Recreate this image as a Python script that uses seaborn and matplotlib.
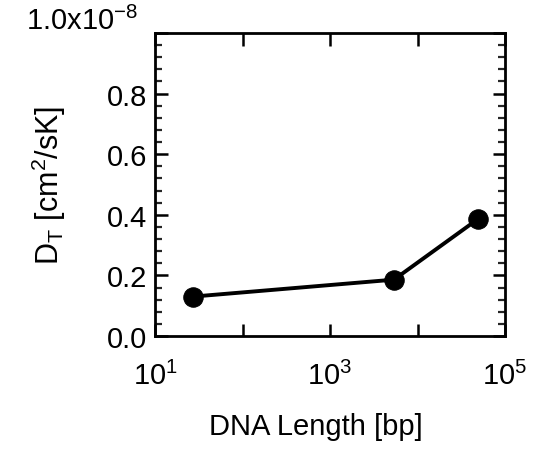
import matplotlib
matplotlib.use("Agg")
import matplotlib.pyplot as plt
import seaborn as sns
import pandas as pd
from matplotlib.ticker import FixedLocator, MultipleLocator, NullLocator

# Data (D_T in units of 1e-8 cm^2/sK)
dna_length_bp = [27, 5386, 48502]
dt_values = [0.13, 0.186, 0.385]
y_tick_vals = [0.0, 0.2, 0.4, 0.6, 0.8, 1.0]
y_tick_labels = ["0.0", "0.2", "0.4", "0.6", "0.8", ""]
y_top_label = "1.0x10$^{-8}$"
x_tick_vals = [10, 100, 1000, 10000, 100000]
x_tick_labels = ["10$^{1}$", "", "10$^{3}$", "", "10$^{5}$"]

sns.set_theme(style="ticks")
plt.rcParams["font.family"] = ["Liberation Sans", "DejaVu Sans"]
plt.rcParams["mathtext.fontset"] = "custom"
plt.rcParams["mathtext.rm"] = "Liberation Sans"
plt.rcParams["mathtext.it"] = "Liberation Sans"
plt.rcParams["mathtext.bf"] = "Liberation Sans"

df = pd.DataFrame({"length": dna_length_bp, "dt": dt_values})

fig = plt.figure(figsize=(5.46, 4.56), dpi=100)
ax = fig.add_axes([155/546, 1 - 337/456, 350/546, (337-34)/456])

sns.lineplot(data=df, x="length", y="dt", ax=ax, color="black", lw=2.8,
             marker="o", markersize=14, markeredgecolor="black", markerfacecolor="black")

ax.set_xscale("log")
ax.set_xlim(10, 1e5)
ax.set_ylim(0, 1.0)

ax.xaxis.set_major_locator(FixedLocator(x_tick_vals))
ax.set_xticklabels(x_tick_labels)
ax.xaxis.set_minor_locator(NullLocator())
ax.yaxis.set_major_locator(FixedLocator(y_tick_vals))
ax.set_yticklabels(y_tick_labels)
ax.yaxis.set_minor_locator(MultipleLocator(0.04))

for s in ax.spines.values():
    s.set_visible(True)
    s.set_linewidth(2.0)
    s.set_color("black")

ax.tick_params(which="major", direction="in", length=9, width=1.8, top=True, right=True,
               labelsize=21, colors="black")
ax.tick_params(which="minor", direction="in", length=5, width=1.6, top=True, right=True)
ax.tick_params(axis="x", which="major", pad=18)
ax.tick_params(axis="y", which="major", pad=5.5)

ax.annotate(y_top_label, xy=(0, 1.0), xycoords="axes fraction",
            xytext=(-12, 9), textcoords="offset points",
            ha="right", va="center", fontsize=21, color="black")

ax.set_xlabel("DNA Length [bp]", fontsize=21, color="black")
ax.xaxis.set_label_coords(0.46, -0.25)
ax.set_ylabel("D$_\\mathrm{T}$ [cm$^2$/sK]", fontsize=22, color="black")
ax.yaxis.set_label_coords(-0.25, 0.5)

fig.savefig("out.png", dpi=100)
